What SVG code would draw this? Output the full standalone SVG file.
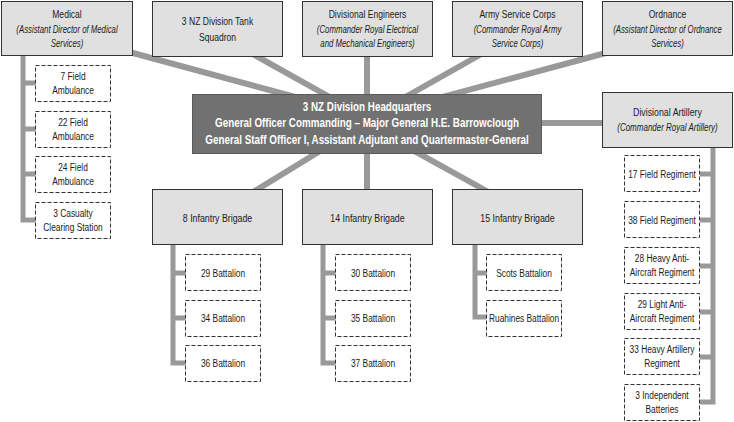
<svg xmlns="http://www.w3.org/2000/svg" width="734" height="422" viewBox="0 0 734 422">
<style>
.box{fill:#e0e0e0;stroke:#333;stroke-width:1}
.hq{fill:#717171;stroke:#5a5a5a;stroke-width:1}
.sub{fill:#fff;stroke:#333;stroke-width:1;stroke-dasharray:4 2}
.con{stroke:#999;stroke-width:6;fill:none}
.tree{stroke:#999;stroke-width:5;fill:none}
text{font-family:"Liberation Sans",Arial,sans-serif;font-size:11px;fill:#1a1a1a;text-anchor:middle}
.it{font-style:italic;font-size:10px}
.w{fill:#fff;font-weight:bold;font-size:12px}
</style>
<rect width="734" height="422" fill="#fff"/>
<g id="connectors">
<line class="con" x1="120" y1="49.5" x2="310" y2="101"/>
<line class="con" x1="249" y1="52" x2="335" y2="100"/>
<line class="con" x1="367" y1="50" x2="367" y2="100"/>
<line class="con" x1="485" y1="52" x2="400" y2="100"/>
<line class="con" x1="615" y1="50.5" x2="440" y2="97.6"/>
<line class="con" x1="535" y1="123" x2="610" y2="123"/>
<line class="con" x1="325" y1="148" x2="250" y2="194"/>
<line class="con" x1="367" y1="148" x2="367" y2="196"/>
<line class="con" x1="410" y1="148.6" x2="492" y2="194"/>
<path class="tree" d="M23,55V220H36M23,83H36M23,129H36M23,174H36"/>
<path class="tree" d="M173,245V363H186M173,273H186M173,318H186"/>
<path class="tree" d="M323,245V363H336M323,273H336M323,318H336"/>
<path class="tree" d="M475,245V317H488M475,273H488"/>
<path class="tree" d="M713,147V402H700M713,174H700M713,220H700M713,266H700M713,312H700M713,357H700"/>
</g>
<g id="medical"><rect class="box" x="1.5" y="1.5" width="131" height="54"/>
<g transform="translate(67 0) scale(.78 1)"><text y="18">Medical</text><text class="it" y="33">(Assistant Director of Medical</text><text class="it" y="47">Services)</text></g></g>
<g id="tank"><rect class="box" x="152.5" y="1.5" width="130" height="55"/>
<g transform="translate(217.5 0) scale(.78 1)"><text y="25">3 NZ Division Tank</text><text y="41">Squadron</text></g></g>
<g id="engineers"><rect class="box" x="302.5" y="1.5" width="130" height="55"/>
<g transform="translate(367.5 0) scale(.78 1)"><text y="18">Divisional Engineers</text><text class="it" y="33">(Commander Royal Electrical</text><text class="it" y="47">and Mechanical Engineers)</text></g></g>
<g id="asc"><rect class="box" x="452.5" y="1.5" width="130" height="55"/>
<g transform="translate(517.5 0) scale(.78 1)"><text y="18">Army Service Corps</text><text class="it" y="33">(Commander Royal Army</text><text class="it" y="47">Service Corps)</text></g></g>
<g id="ordnance"><rect class="box" x="602.5" y="1.5" width="130" height="54"/>
<g transform="translate(667.5 0) scale(.78 1)"><text y="18">Ordnance</text><text class="it" y="33">(Assistant Director of Ordnance</text><text class="it" y="47">Services)</text></g></g>
<g id="hq"><rect class="hq" x="192.5" y="94.5" width="349" height="59"/>
<g transform="translate(367 0) scale(.82 1)"><text class="w" y="111">3 NZ Division Headquarters</text><text class="w" y="127">General Officer Commanding – Major General H.E. Barrowclough</text><text class="w" y="144">General Staff Officer I, Assistant Adjutant and Quartermaster-General</text></g></g>
<g id="artillery"><rect class="box" x="602.5" y="92.5" width="130" height="55"/>
<g transform="translate(667.5 0) scale(.8 1)"><text y="116">Divisional Artillery</text><text class="it" y="131">(Commander Royal Artillery)</text></g></g>
<g id="brigade8"><rect class="box" x="152.5" y="189.5" width="130" height="55"/>
<g transform="translate(217.5 0) scale(.8 1)"><text y="222">8 Infantry Brigade</text></g></g>
<g id="brigade14"><rect class="box" x="302.5" y="189.5" width="130" height="55"/>
<g transform="translate(367.5 0) scale(.8 1)"><text y="222">14 Infantry Brigade</text></g></g>
<g id="brigade15"><rect class="box" x="452.5" y="189.5" width="130" height="55"/>
<g transform="translate(517.5 0) scale(.8 1)"><text y="222">15 Infantry Brigade</text></g></g>
<g id="fa7"><rect class="sub" x="35.5" y="65.5" width="75" height="36"/>
<g transform="translate(73 0) scale(.76 1)"><text y="80">7 Field</text><text y="94">Ambulance</text></g></g>
<g id="fa22"><rect class="sub" x="35.5" y="111.5" width="75" height="36"/>
<g transform="translate(73 0) scale(.76 1)"><text y="126">22 Field</text><text y="140">Ambulance</text></g></g>
<g id="fa24"><rect class="sub" x="35.5" y="156.5" width="75" height="36"/>
<g transform="translate(73 0) scale(.76 1)"><text y="171">24 Field</text><text y="185">Ambulance</text></g></g>
<g id="ccs3"><rect class="sub" x="35.5" y="202.5" width="75" height="36"/>
<g transform="translate(73 0) scale(.76 1)"><text y="217">3 Casualty</text><text y="231">Clearing Station</text></g></g>
<g id="bn29"><rect class="sub" x="185.5" y="254.5" width="75" height="36"/>
<g transform="translate(223 0) scale(.76 1)"><text y="277">29 Battalion</text></g></g>
<g id="bn34"><rect class="sub" x="185.5" y="300.5" width="75" height="36"/>
<g transform="translate(223 0) scale(.76 1)"><text y="322">34 Battalion</text></g></g>
<g id="bn36"><rect class="sub" x="185.5" y="345.5" width="75" height="36"/>
<g transform="translate(223 0) scale(.76 1)"><text y="367">36 Battalion</text></g></g>
<g id="bn30"><rect class="sub" x="335.5" y="254.5" width="75" height="36"/>
<g transform="translate(373 0) scale(.76 1)"><text y="277">30 Battalion</text></g></g>
<g id="bn35"><rect class="sub" x="335.5" y="300.5" width="75" height="36"/>
<g transform="translate(373 0) scale(.76 1)"><text y="322">35 Battalion</text></g></g>
<g id="bn37"><rect class="sub" x="335.5" y="345.5" width="75" height="36"/>
<g transform="translate(373 0) scale(.76 1)"><text y="367">37 Battalion</text></g></g>
<g id="scots"><rect class="sub" x="486.5" y="254.5" width="75" height="36"/>
<g transform="translate(524 0) scale(.76 1)"><text y="277">Scots Battalion</text></g></g>
<g id="ruahines"><rect class="sub" x="486.5" y="300.5" width="75" height="36"/>
<g transform="translate(524 0) scale(.76 1)"><text y="322">Ruahines Battalion</text></g></g>
<g id="fr17"><rect class="sub" x="624.5" y="155.5" width="75" height="36"/>
<g transform="translate(662 0) scale(.76 1)"><text y="178">17 Field Regiment</text></g></g>
<g id="fr38"><rect class="sub" x="624.5" y="201.5" width="75" height="36"/>
<g transform="translate(662 0) scale(.76 1)"><text y="224">38 Field Regiment</text></g></g>
<g id="haa28"><rect class="sub" x="624.5" y="247.5" width="75" height="36"/>
<g transform="translate(662 0) scale(.76 1)"><text y="262">28 Heavy Anti-</text><text y="276">Aircraft Regiment</text></g></g>
<g id="laa29"><rect class="sub" x="624.5" y="293.5" width="75" height="36"/>
<g transform="translate(662 0) scale(.76 1)"><text y="308">29 Light Anti-</text><text y="322">Aircraft Regiment</text></g></g>
<g id="har33"><rect class="sub" x="624.5" y="338.5" width="75" height="36"/>
<g transform="translate(662 0) scale(.76 1)"><text y="353">33 Heavy Artillery</text><text y="367">Regiment</text></g></g>
<g id="ib3"><rect class="sub" x="624.5" y="384.5" width="75" height="36"/>
<g transform="translate(662 0) scale(.76 1)"><text y="399">3 Independent</text><text y="413">Batteries</text></g></g>
</svg>
